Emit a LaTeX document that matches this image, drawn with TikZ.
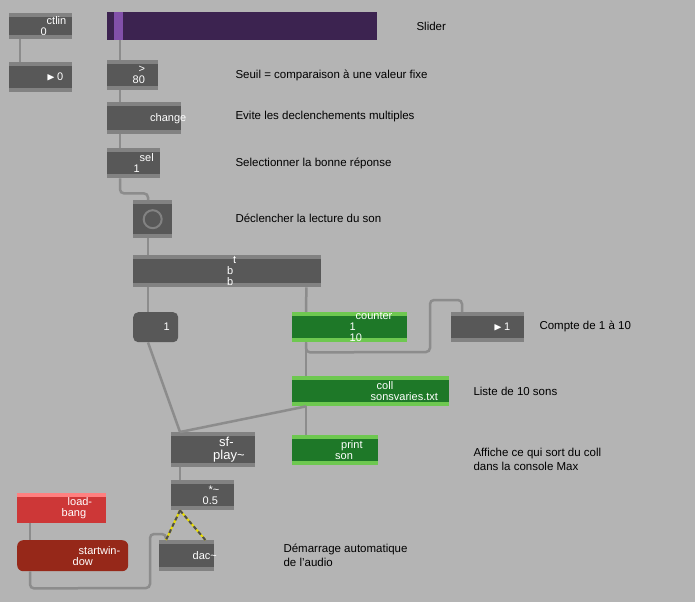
\documentclass[tikz,border=0pt]{standalone}
\usepackage{amssymb}
\usepackage{fontspec}
\setmainfont{Liberation Sans}
\definecolor{patchbg}{RGB}{180,180,180}
\definecolor{objgray}{RGB}{88,88,88}
\definecolor{objstrip}{RGB}{130,130,130}
\definecolor{greenobj}{RGB}{30,120,40}
\definecolor{greenstrip}{RGB}{110,200,80}
\definecolor{redobj}{RGB}{205,55,55}
\definecolor{darkred}{RGB}{150,40,25}
\definecolor{sliderbg}{RGB}{60,35,80}
\definecolor{knob}{RGB}{130,80,170}
\definecolor{cordgray}{RGB}{140,140,140}
\begin{document}
\begin{tikzpicture}[x=1pt,y=-1pt,
    maxobj/.style={anchor=north west,fill=objgray,text=white,inner sep=0pt,
      font=\fontsize{11}{11}\selectfont,text width=0pt,align=left,
      path picture={\fill[objstrip] (path picture bounding box.north west)
        rectangle ([yshift=-4pt]path picture bounding box.north east);
        \fill[objstrip] (path picture bounding box.south west)
        rectangle ([yshift=4pt]path picture bounding box.south east);}},
    greenbox/.style={maxobj,fill=greenobj,
      path picture={\fill[greenstrip] (path picture bounding box.north west)
        rectangle ([yshift=-4pt]path picture bounding box.north east);
        \fill[greenstrip] (path picture bounding box.south west)
        rectangle ([yshift=4pt]path picture bounding box.south east);}},
    cord/.style={draw=cordgray,line width=2.5pt,rounded corners=4pt},
    sigcord/.style={draw=black!70,line width=2pt,dash pattern=on 4pt off 3pt},
    comment/.style={anchor=west,font=\fontsize{11.5}{14}\selectfont,align=left},
  ]
\fill[patchbg] (0,0) rectangle (695,602);
\useasboundingbox (0,0) rectangle (695,602);
% objects
\node[maxobj,minimum width=63pt,minimum height=26pt] (ctlin) at (9,13) {\hspace*{6pt}ctlin 0};
\node[maxobj,minimum width=63pt,minimum height=30pt] (num0) at (9,62) {\hspace*{6pt}$\blacktriangleright$\,0};
\node[anchor=north west,fill=sliderbg,minimum width=270pt,minimum height=28pt,inner sep=0pt] (slider) at (107,12) {};
\fill[knob] (114,12) rectangle (123,40);
\node[maxobj,minimum width=51pt,minimum height=30pt] (seuil) at (107,60) {\hspace*{6pt}> 80};
\node[maxobj,minimum width=74pt,minimum height=32pt] (change) at (107,102) {\hspace*{6pt}change};
\node[maxobj,minimum width=53pt,minimum height=30pt] (sel) at (107,148) {\hspace*{6pt}sel 1};
\node[maxobj,minimum width=39pt,minimum height=38pt] (bang) at (133,200) {};
\draw[objstrip,line width=2pt] (bang.center) circle (9pt);
\node[maxobj,minimum width=188pt,minimum height=32pt] (tbb) at (133,255) {\hspace*{6pt}t b b};
\node[anchor=north west,fill=objgray,text=white,rounded corners=5pt,minimum width=45pt,minimum height=30pt,inner sep=0pt,font=\fontsize{11}{11}\selectfont,text width=0pt,align=left] (msg) at (133,312) {\hspace*{8pt}1};
\node[greenbox,minimum width=115pt,minimum height=30pt] (counter) at (292,312) {\hspace*{6pt}counter 1 10};
\node[maxobj,minimum width=73pt,minimum height=30pt] (num1) at (451,312) {\hspace*{6pt}$\blacktriangleright$\,1};
\node[greenbox,minimum width=157pt,minimum height=30pt] (coll) at (292,376) {\hspace*{6pt}coll sonsvaries.txt};
\node[greenbox,minimum width=86pt,minimum height=30pt] (print) at (292,435) {\hspace*{6pt}print son};
\node[maxobj,minimum width=84pt,minimum height=35pt,font=\fontsize{13}{13}\selectfont] (sfplay) at (171,432) {\hspace*{6pt}sfplay\textasciitilde};
\node[maxobj,minimum width=63pt,minimum height=30pt] (mult) at (171,480) {\hspace*{6pt}*\textasciitilde{} 0.5};
\node[maxobj,fill=redobj,minimum width=89pt,minimum height=30pt,
  path picture={\fill[red!50!white] (path picture bounding box.north west)
  rectangle ([yshift=-4pt]path picture bounding box.north east);}] (loadbang) at (17,493) {\hspace*{6pt}loadbang};
\node[anchor=north west,fill=darkred,text=white,rounded corners=6pt,minimum width=111pt,minimum height=31pt,inner sep=0pt,font=\fontsize{11}{11}\selectfont,text width=0pt,align=left] (startw) at (17,540) {\hspace*{6pt}startwindow};
\node[maxobj,minimum width=55pt,minimum height=31pt] (dac) at (159,540) {\hspace*{6pt}dac\textasciitilde};
% comments
\node[comment] (cslider) at (413,26) {Slider};
\node[comment] (cseuil) at (232,75) {Seuil = comparaison à une valeur fixe};
\node[comment] (cevite) at (232,117) {Evite les declenchements multiples};
\node[comment] (csel) at (232,163) {Selectionner la bonne réponse};
\node[comment] (cbang) at (232,218) {Déclencher la lecture du son};
\node[comment] (ccompte) at (536,326) {Compte de 1 à 10};
\node[comment] (cliste) at (470,391) {Liste de 10 sons};
\node[comment] (caffiche) at (470,459) {Affiche ce qui sort du coll\\dans la console Max};
\node[comment] (cdemar) at (280,555) {Démarrage automatique\\de l'audio};
% cords
\draw[cord] ([xshift=11pt]ctlin.south west) -- ([xshift=11pt]num0.north west);
\draw[cord] ([xshift=13pt]slider.south west) -- ([xshift=13pt]seuil.north west);
\draw[cord] ([xshift=13pt]seuil.south west) -- ([xshift=13pt]change.north west);
\draw[cord] ([xshift=13pt]change.south west) -- ([xshift=13pt]sel.north west);
\draw[cord] ([xshift=13pt]sel.south west) -- ++(0,15) -| ([xshift=15pt]bang.north west);
\draw[cord] ([xshift=15pt]bang.south west) -- ([xshift=15pt]tbb.north west);
\draw[cord] ([xshift=15pt]tbb.south west) -- ([xshift=15pt]msg.north west);
\draw[cord] ([xshift=-15pt]tbb.south east) -- ([xshift=14pt]counter.north west);
\draw[cord] ([xshift=14pt]counter.south west) -- ([xshift=14pt]coll.north west);
\draw[cord] ([xshift=14pt]counter.south west) -- ++(0,10) -- (430,352) -- (430,300) -| ([xshift=11pt]num1.north west);
\draw[cord] ([xshift=15pt]msg.south west) -- ([xshift=9pt]sfplay.north west);
\draw[cord] ([xshift=14pt]coll.south west) -- ([xshift=9pt]sfplay.north west);
\draw[cord] ([xshift=14pt]coll.south west) -- ([xshift=14pt]print.north west);
\draw[cord] ([xshift=9pt]sfplay.south west) -- ([xshift=9pt]mult.north west);
\draw[cord] ([xshift=13pt]loadbang.south west) -- ([xshift=13pt]startw.north west);
\draw[cord] ([xshift=13pt]startw.south west) -- ++(0,17) -- (150,588) |- ([xshift=7pt,yshift=6pt]dac.north west) -- ([xshift=7pt]dac.north west);
\draw[draw=yellow!80!olive,line width=2pt] ([xshift=9pt]mult.south west) -- ([xshift=7pt]dac.north west);
\draw[draw=yellow!80!olive,line width=2pt] ([xshift=9pt]mult.south west) -- ([xshift=-9pt]dac.north east);
\draw[sigcord] ([xshift=9pt]mult.south west) -- ([xshift=7pt]dac.north west);
\draw[sigcord] ([xshift=9pt]mult.south west) -- ([xshift=-9pt]dac.north east);
\end{tikzpicture}
\end{document}
